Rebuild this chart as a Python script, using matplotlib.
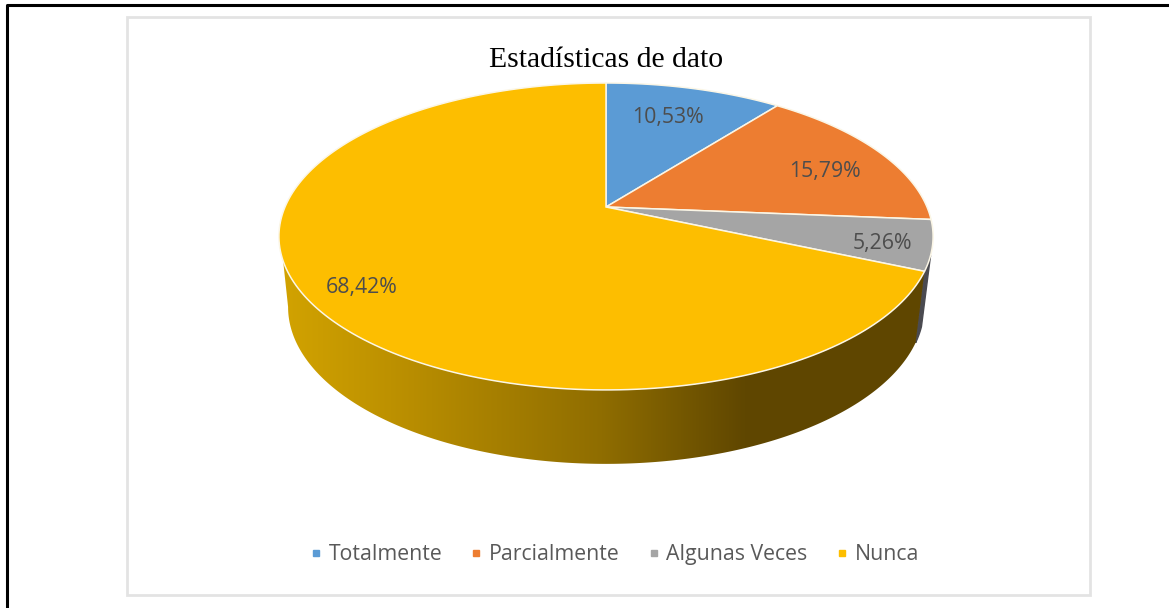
#!/usr/bin/python3
import numpy as np
import matplotlib
matplotlib.use('Agg')
import matplotlib.pyplot as plt
from matplotlib.colors import LinearSegmentedColormap
from matplotlib.lines import Line2D
from matplotlib.patches import Polygon, Rectangle

# ------------> Data
categories = ['Totalmente', 'Parcialmente', 'Algunas Veces', 'Nunca']
values = [10.53, 15.79, 5.26, 68.42]
labels = ['10,53%', '15,79%', '5,26%', '68,42%']
colors = ['#5B9BD5', '#ED7D31', '#A5A5A5', '#FDBE00']
title = 'Estadísticas de dato'

# ------------> Label centres, in pixels
label_x = [668, 825, 882, 362]
label_y = [118, 172, 243, 288]

W, H = 1169, 608
CX, CY = 606, 207


# clockwise angle from the top (degrees) -> perspective view of the pie
def top_face(theta, r=1.0):
    t = np.radians(theta)
    u, v = r * np.sin(t), r * np.cos(t)
    d = 1 + 0.192 * v
    return CX + 321 * u / d, CY - 147.8 * v / d


def bottom_face(theta):
    t = np.radians(theta)
    u, v = np.sin(t), np.cos(t)
    d = 1 + 0.192 * v
    return CX + 312 * u / d, CY + 70 - 151 * v / d


edges = np.cumsum([0] + values) * 3.6

fig = plt.figure(figsize=(W / 100, H / 100), dpi=100)
ax = fig.add_axes([0, 0, 1, 1])
ax.set_xlim(0, W)
ax.set_ylim(H, 0)
ax.axis('off')

# ------------> Frames
ax.add_line(Line2D([7, 7, W], [H, 5, 5], color='black', linewidth=2.2))
ax.add_patch(Rectangle((127, 17), 963, 578, facecolor='white', edgecolor='#e3e3e3', linewidth=2))

# ------------> Side of the gray slice (thin sliver on the right)
th = np.linspace(108, edges[3], 30)
xt, yt = top_face(th)
xb, yb = bottom_face(th)
ax.fill(np.r_[xt, xb[::-1]], np.r_[yt, yb[::-1]], color='#4a4a50', zorder=2)

# ------------> Side of the yellow slice, gradient from left to right
xt, yt = top_face(np.linspace(edges[3], 250, 300))
xb, yb = bottom_face(np.linspace(edges[3], 259, 300))
side = Polygon(np.c_[np.r_[xt, xb[::-1]], np.r_[yt, yb[::-1]]], closed=True,
               facecolor='none', edgecolor='none', zorder=3)
ax.add_patch(side)
side_cmap = LinearSegmentedColormap.from_list(
    'side', [(0, '#d2a300'), (0.17, '#bd9100'), (0.5, '#8f6d00'), (0.72, '#604700'), (1, '#5f4600')])
grad = ax.imshow(np.linspace(0, 1, 256)[None, :], cmap=side_cmap, aspect='auto',
                 extent=(280, 925, 480, 240), zorder=3)
grad.set_clip_path(side)
ax.set_xlim(0, W)
ax.set_ylim(H, 0)

# ------------> Top face
for i in range(len(values)):
    th = np.linspace(edges[i], edges[i + 1], 200)
    x, y = top_face(th)
    ax.fill(np.r_[CX, x], np.r_[CY, y], facecolor=colors[i], edgecolor='#fbf6e6',
            linewidth=1.1, zorder=4)

# ------------> Slice labels
for i in range(len(labels)):
    ax.text(label_x[i], label_y[i], labels[i], ha='center', va='center', fontsize=15.3,
            family='Open Sans', color='#4d4d4d', zorder=5)

ax.text(606, 60, title, ha='center', va='center', fontsize=21.3, family='Liberation Serif',
        color='black', zorder=5)

# ------------> Legend
handles = [Line2D([], [], linestyle='none', marker='s', markersize=4.5, color=c) for c in colors]
leg = ax.legend(handles, categories, loc='center', bbox_to_anchor=(613 / W, 1 - 554.5 / H),
                ncol=4, frameon=False, handlelength=0.8, handletextpad=0.2, columnspacing=1.2,
                prop={'family': 'Open Sans', 'size': 15.3})
for txt in leg.get_texts():
    txt.set_color('#595959')

fig.savefig('out.png', dpi=100)
plt.close()
